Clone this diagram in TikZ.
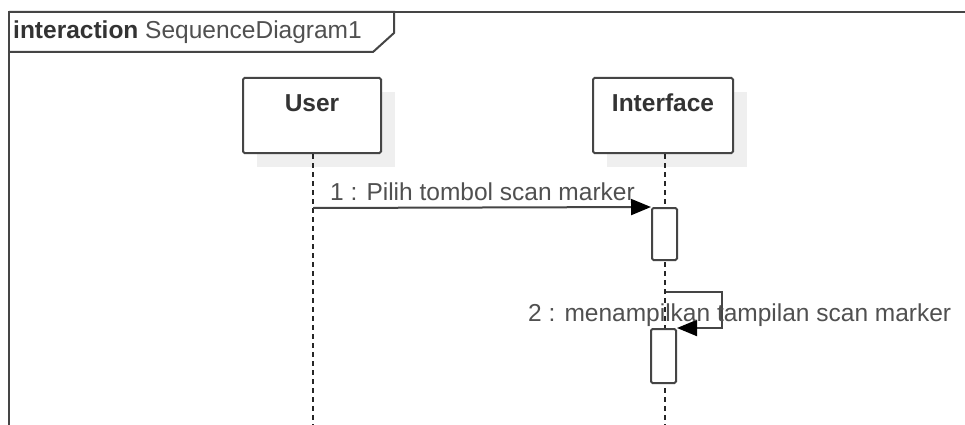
\documentclass[tikz,border=0pt]{standalone}
\usepackage{fontspec}
\setmainfont{Liberation Sans}
\usetikzlibrary{arrows.meta}
\definecolor{edge}{HTML}{454545}
\definecolor{ink}{HTML}{333333}
\definecolor{msgink}{HTML}{505050}
\definecolor{shade}{HTML}{EFEFEF}
\tikzset{
  px/.style={x=1pt,y=-1pt},
  frameline/.style={draw=edge,line width=2pt},
  objbox/.style={draw=edge,line width=2pt,fill=white,rounded corners=1.5pt},
  objshadow/.style={fill=shade},
  lifeline/.style={draw=black!85,line width=2pt,dash pattern=on 5pt off 4pt},
  actbox/.style={draw=edge,line width=2pt,fill=white,rounded corners=1.5pt},
  msg/.style={draw=edge,line width=2pt,-{Triangle[length=20pt,width=16pt,color=black,fill=black]}},
  bigtxt/.style={font=\fontsize{24.5}{29}\selectfont},
}
\begin{document}
\begin{tikzpicture}[px]
\useasboundingbox (0,0) rectangle (965,425);
\fill[white] (0,0) rectangle (965,425);

% frame of the interaction
\draw[frameline] (965,12) -- (9,12) -- (9,425);
\draw[frameline] (9,12) -- (394,12) -- (394,33) -- (373,52) -- (9,52);
\node[bigtxt,anchor=west,text=ink,inner sep=0pt] (title) at (13,32)
  {\textbf{interaction} \color{msgink}SequenceDiagram1};

% shadows of the objects
\fill[objshadow] (257,92) rectangle (395,167);
\fill[objshadow] (607,92) rectangle (747,167);

% lifeline heads
\node[objbox,minimum width=138pt,minimum height=75pt,inner sep=0pt] (user) at (312,115.5) {};
\node[bigtxt,text=ink,font=\fontsize{24.5}{29}\selectfont\bfseries] (userlbl) at (312,103) {User};
\node[objbox,minimum width=140pt,minimum height=75pt,inner sep=0pt] (iface) at (663,115.5) {};
\node[bigtxt,text=ink,font=\fontsize{24.5}{29}\selectfont\bfseries] (ifacelbl) at (663,103) {Interface};

% lifelines
\coordinate (userend) at (313,425);
\coordinate (ifaceend) at (665,425);
\draw[lifeline] (user.south -| userend) -- (userend);
\draw[lifeline] (iface.south -| ifaceend) -- (ifaceend);

% activations
\node[actbox,minimum width=25pt,minimum height=52pt,inner sep=0pt] (act1) at (664.5,234) {};
\node[actbox,minimum width=25pt,minimum height=54pt,inner sep=0pt] (act2) at (663.5,356) {};

% message 1
\coordinate (m1start) at (313,208);
\draw[msg] (m1start) -- (act1.north west);
\node[bigtxt,text=msgink,anchor=base west,inner sep=0pt] (m1lbl) at (330,200) {1 : Pilih tombol scan marker};

% message 2 (self call)
\coordinate (m2start) at (666,292);
\coordinate (m2corner) at (722,292);
\draw[msg] (m2start) -- (m2corner) |- (act2.north east);
\node[bigtxt,text=msgink,anchor=base west,inner sep=0pt] (m2lbl) at (528,321) {2 : menampilkan tampilan scan marker};
\end{tikzpicture}
\end{document}
